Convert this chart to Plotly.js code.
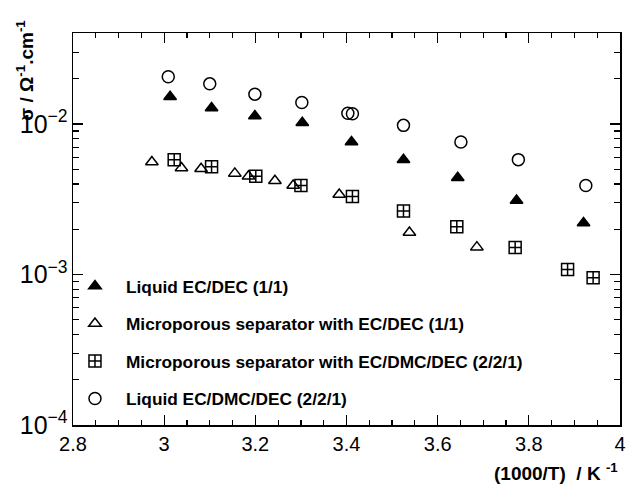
<!DOCTYPE html>
<html>
<head>
<meta charset="utf-8">
<script src="https://cdn.plot.ly/plotly-3.0.1.min.js"></script>
<style>
  html, body { margin: 0; padding: 0; background: #fff; }
  #chart { width: 628px; height: 487px; }
</style>
</head>
<body>
<div id="chart"></div>
<script>
// Conductivity (S/cm) versus inverse temperature 1000/T (1/K)

// Liquid EC/DEC (1/1)
const xLiqECDEC = [3.013, 3.104, 3.199, 3.303, 3.411, 3.525, 3.644, 3.773, 3.920];
const sLiqECDEC = [0.0152, 0.0128, 0.0113, 0.0102, 0.0076, 0.0058, 0.0044, 0.0031, 0.0022];

// Microporous separator with EC/DEC (1/1)
const xSepECDEC = [2.973, 3.038, 3.081, 3.155, 3.185, 3.243, 3.283, 3.384, 3.538, 3.686];
const sSepECDEC = [0.0056, 0.0051, 0.00505, 0.0047, 0.0045, 0.0042, 0.0039, 0.0034, 0.0019, 0.00152];

// Microporous separator with EC/DMC/DEC (2/2/1)
const xSepECDMCDEC = [3.022, 3.104, 3.201, 3.300, 3.413, 3.525, 3.642, 3.770, 3.885, 3.941];
const sSepECDMCDEC = [0.0058, 0.0052, 0.0045, 0.0039, 0.0033, 0.00264, 0.00208, 0.00151, 0.00108, 0.00095];

// Liquid EC/DMC/DEC (2/2/1)
const xLiqECDMCDEC = [3.009, 3.100, 3.199, 3.302, 3.403, 3.413, 3.525, 3.651, 3.777, 3.925];
const sLiqECDMCDEC = [0.0206, 0.0185, 0.0158, 0.0139, 0.0118, 0.0117, 0.0098, 0.0076, 0.0058, 0.0039];

const seriesNames = [
  'Liquid EC/DEC (1/1)',
  'Microporous separator with EC/DEC (1/1)',
  'Microporous separator with EC/DMC/DEC (2/2/1)',
  'Liquid EC/DMC/DEC (2/2/1)'
];

const FONT = 'Arial, "Liberation Sans", Helvetica, sans-serif';

function series(x, y, name, group, symbol, size) {
  return {
    type: 'scatter', mode: 'markers', x: x, y: y, name: name,
    legendgroup: group,
    marker: { symbol: symbol, size: size, color: '#000',
              line: { color: '#000', width: 1.5 } },
    hoverinfo: 'x+y'
  };
}

const traces = [
  series(xLiqECDEC, sLiqECDEC, seriesNames[0], 'g1', 'triangle-up', 11),
  series(xSepECDEC, sSepECDEC, seriesNames[1], 'g2', 'triangle-up-open', 11),
  series(xSepECDMCDEC, sSepECDMCDEC, seriesNames[2], 'g3', 'square-cross-open', 12),
  series(xLiqECDMCDEC, sLiqECDMCDEC, seriesNames[3], 'g4', 'circle-open', 12)
];

const layout = {
  width: 628, height: 487,
  margin: { l: 73, r: 8, t: 33, b: 62 },
  paper_bgcolor: '#fff', plot_bgcolor: '#fff',
  font: { family: FONT, color: '#000', size: 20 },
  showlegend: true,
  legend: {
    x: -0.0165, y: 0.40, xanchor: 'left', yanchor: 'top',
    bgcolor: 'rgba(0,0,0,0)', borderwidth: 0,
    itemwidth: 52, traceorder: 'grouped', tracegroupgap: 12,
    font: { family: FONT, size: 17.3, weight: 'bold', color: '#000' }
  },
  xaxis: {
    range: [2.8, 4.0], dtick: 0.2, tick0: 2.8,
    showgrid: false, zeroline: false,
    showline: true, linecolor: '#000', linewidth: 1.5, mirror: 'allticks',
    ticks: 'inside', ticklen: 10, tickwidth: 1.3, tickcolor: '#000',
    tickfont: { family: FONT, size: 20 },
    minor: { dtick: 0.05, ticks: 'inside', ticklen: 5, tickwidth: 1.2, tickcolor: '#000', showgrid: false }
  },
  yaxis: {
    type: 'log', range: [-4, -1.395], dtick: 1,
    exponentformat: 'power',
    showgrid: false, zeroline: false,
    showline: true, linecolor: '#000', linewidth: 1.5, mirror: 'allticks',
    ticks: 'inside', ticklen: 10, tickwidth: 1.3, tickcolor: '#000',
    tickfont: { family: FONT, size: 20 },
    minor: { dtick: 'D1', ticks: 'inside', ticklen: 6, tickwidth: 1.2, tickcolor: '#000', showgrid: false }
  },
  annotations: [
    {
      text: 'σ / Ω<sup>-1</sup>.cm<sup>-1</sup>',
      xref: 'paper', yref: 'paper', x: -0.088, y: 0.772,
      xanchor: 'center', yanchor: 'bottom', textangle: -90, showarrow: false,
      font: { family: FONT, size: 19, weight: 'bold', color: '#000' }
    },
    {
      text: '(1000/T)  / K <sup>-1</sup>',
      xref: 'paper', yref: 'paper', x: 1.0, y: -0.12,
      xanchor: 'right', yanchor: 'middle', showarrow: false,
      font: { family: FONT, size: 19, weight: 'bold', color: '#000' }
    }
  ]
};

Plotly.newPlot('chart', traces, layout, { displayModeBar: false, staticPlot: true });
</script>
</body>
</html>
